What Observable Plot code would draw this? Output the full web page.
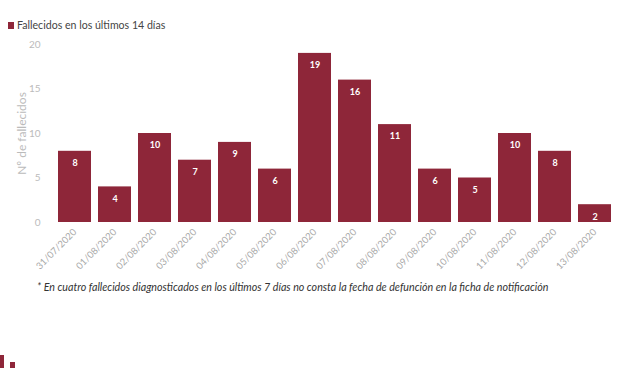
<!DOCTYPE html>
<html>
<head>
<meta charset="utf-8">
<script src="https://cdn.jsdelivr.net/npm/d3@7"></script>
<script src="https://cdn.jsdelivr.net/npm/@observablehq/plot@0.6"></script>
<style>
  body { margin: 0; background: #fff; font-family: Lato, "Open Sans", sans-serif; }
  #wrap { position: relative; width: 620px; height: 368px; overflow: hidden; }
  #legend { position: absolute; left: 8px; top: 19px; font-size: 10.6px; color: #444; display: flex; align-items: center; }
  #legend .sw { width: 6px; height: 7px; background: #8e2639; margin-right: 3px; }
  #chart { position: absolute; left: 0; top: 0; }
  #note { position: absolute; left: 37px; top: 280px; font-size: 10.7px; font-style: italic; color: #333; white-space: nowrap; }
  #logo { position: absolute; left: 0; top: 355px; width: 4px; height: 13px; background: #8e2639; }
  #logo2 { position: absolute; left: 10px; top: 362px; width: 5px; height: 6px; background: #8e2639; }
</style>
</head>
<body>
<div id="wrap">
  <div id="chart"></div>
  <div id="legend"><span class="sw"></span><span>Fallecidos en los últimos 14 días</span></div>
  <div id="note">* En cuatro fallecidos diagnosticados en los últimos 7 días no consta la fecha de defunción en la ficha de notificación</div>
  <div id="logo"></div><div id="logo2"></div>
</div>
<script>
const fechas = ["31/07/2020","01/08/2020","02/08/2020","03/08/2020","04/08/2020","05/08/2020","06/08/2020","07/08/2020","08/08/2020","09/08/2020","10/08/2020","11/08/2020","12/08/2020","13/08/2020"];
const fallecidos = [8,4,10,7,9,6,19,16,11,6,5,10,8,2];
const yTicks = [0,5,10,15,20];

const data = fechas.map((f, i) => ({fecha: f, valor: fallecidos[i]}));
const color = "#8e2639";

const plot = Plot.plot({
  width: 620,
  height: 270,
  marginTop: 44,
  marginBottom: 48,
  marginLeft: 46,
  marginRight: -3,
  style: {fontFamily: "Lato, 'Open Sans', sans-serif", background: "transparent"},
  x: {domain: fechas, padding: 0.165, label: null},
  y: {domain: [0, 20], ticks: yTicks, label: null},
  marks: [
    Plot.barY(data, {x: "fecha", y: "valor", fill: color}),
    Plot.text(data, {x: "fecha", y: "valor", text: d => String(d.valor), dy: 12, fill: "white", fontSize: 9, fontWeight: "bold"}),
    Plot.axisY({ticks: yTicks, tickSize: 0, tickPadding: 6, fontSize: 10, color: "#bbb", label: null}),
    Plot.text(["Nº de fallecidos"], {frameAnchor: "left", textAnchor: "middle", dx: -24, rotate: -90, fill: "#bbb", fontSize: 12}),
    Plot.axisX({tickSize: 0, tickRotate: -45, tickPadding: 8, fontSize: 9.5, color: "#aaa", label: null})
  ]
});
document.getElementById("chart").appendChild(plot);
</script>
</body>
</html>
